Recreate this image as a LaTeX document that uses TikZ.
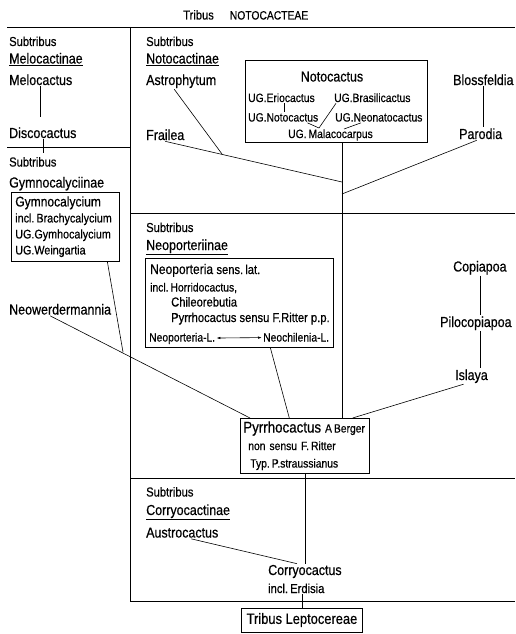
\documentclass[tikz,border=0pt]{standalone}
\usepackage{fontspec}
\setmainfont{Liberation Sans}[FakeStretch=0.86,FakeBold=0.5]
\usetikzlibrary{arrows.meta}
\newcommand{\taxbig}{\fontsize{14.5}{17}\selectfont}
\newcommand{\taxmid}{\fontsize{13}{15.5}\selectfont}
\newcommand{\taxsmall}{\fontsize{12}{14}\selectfont}

\begin{document}
\begin{tikzpicture}[x=1pt,y=-1pt]
    % Define styles for names, boxes and lines
    \tikzstyle{taxon}=[inner sep=1pt,anchor=base west,font=\taxbig]
    \tikzstyle{note}=[taxon,font=\taxmid]
    \tikzstyle{tiny}=[taxon,font=\taxsmall]
    \tikzstyle{genbox}=[draw,line width=0.6pt,anchor=north west,inner sep=0pt]
    \tikzstyle{frame}=[line width=0.7pt]
    \tikzstyle{link}=[line width=0.6pt]
    \useasboundingbox (0,0) rectangle (515,634);

    % Title and frame
    \node[taxon,font=\fontsize{13}{15}\selectfont] (title) at (182,19.5) {Tribus\hspace{16pt}{\taxsmall NOTOCACTEAE}};
    \draw[frame] (7,27) -- (515,27);
    \draw[frame] (130,27) -- (130,601);
    \draw[frame] (7,147) -- (130,147);
    \foreach \y in {213,478,601}{
        \draw[frame] (130,\y) -- (515,\y);
    }
    % Subtribus labels
    \foreach \x/\y/\n in {8/46/a, 8/166.5/b, 145/46/c, 145/232/d, 145/496.5/e}{
        \node[note] (sub\n) at (\x,\y) {Subtribus};
    }

    % Melocactinae
    \node[taxon] (meloc) at (8,63.5) {\underline{Melocactinae}};
    \node[taxon] (melo) at (8,85) {Melocactus};
    \node[taxon] (disco) at (8,138) {Discocactus};
    \coordinate (dtick) at (41,153);
    \draw[link,shorten >=9pt] (melo.south) -- (melo.south |- disco.north);
    \draw[link] (disco.south) -- (disco.south |- dtick);

    % Gymnocalyciinae
    \node[taxon] (gymnoc) at (8,187.5) {Gymnocalyciinae};
    \node[genbox,inner sep=4pt,text width=100pt,align=left,font=\fontsize{12.5}{16}\selectfont] (gymnobox) at (11,192)
        {{\fontsize{14}{16}\selectfont Gymnocalycium}\\incl.\,Brachycalycium\\UG.Gymhocalycium\\UG.Weingartia};
    \node[taxon] (neower) at (8,314.5) {Neowerdermannia};

    % Notocactinae
    \node[taxon] (notoc) at (145,63.5) {\underline{Notocactinae}};
    \node[taxon] (astro) at (145,85) {Astrophytum};
    \node[taxon] (frail) at (145,140) {Frailea};
    \node[genbox,minimum width=182pt,minimum height=82pt] (notobox) at (245,60) {};
    \node[taxon,anchor=base] (notocac) at (332,81.5) {Notocactus};
    \node[tiny] (eri) at (247,102) {UG.Eriocactus};
    \node[tiny] (bras) at (333,102) {UG.Brasilicactus};
    \node[tiny] (notu) at (247,121.5) {UG.Notocactus};
    \node[tiny] (neon) at (334,121.5) {UG.Neonatocactus};
    \node[tiny] (mala) at (287,138) {UG.\,Malacocarpus};
    \coordinate (mj) at (319,128);
    \coordinate (nj) at (344,129);
    \draw[link] ([xshift=3pt]eri.south) -- ([xshift=3pt]eri.south |- notu.north);
    \draw[link] ([xshift=-12pt]notu.south east) -- (mj);
    \draw[link] ([xshift=3pt]bras.south west) -- (mj);
    \draw[link] ([xshift=27pt]neon.south west) -- (nj);
    \node[taxon] (blos) at (452,85) {Blossfeldia};
    \node[taxon] (parod) at (458,139) {Parodia};
    \draw[link] (blos.south) -- (blos.south |- parod.north);
    % Lines joining the trunk
    \coordinate (as) at (222,154);
    \coordinate (fr) at (342,182);
    \coordinate (pa) at (342,194);
    \draw[link] ([xshift=-7pt]astro.south) -- (as);
    \draw[link] (frail.south) -- (fr);
    \draw[link] ([xshift=-4pt]parod.south) -- (pa);

    % Neoporteriinae
    \node[taxon] (neopc) at (145,250) {\underline{Neoporteriinae}};
    \node[genbox,minimum width=188pt,minimum height=89pt] (neobox) at (145,258) {};
    \node[taxon,font=\fontsize{14}{16}\selectfont] (neop) at (149,274) {Neoporteria {\taxmid sens.\,lat.}};
    \node[tiny] (horr) at (149,291.5) {incl.\,Horridocactus,};
    \node[note] (chil) at (170,306.5) {Chileorebutia};
    \node[note] (pyrsl) at (170,322) {Pyrrhocactus sensu F.Ritter p.p.};
    \node[tiny] (nl) at (148,341.5) {Neoporteria-L.};
    \node[tiny] (nc) at (262,341.5) {Neochilenia-L.};
    \draw[link,{Latex[length=4pt,width=2.5pt]}-{Latex[length=4pt,width=2.5pt]}] (nl) -- (nc);
    \node[taxon] (copia) at (452,271.5) {Copiapoa};
    \node[taxon] (piloc) at (439,327) {Pilocopiapoa};
    \node[taxon] (islay) at (454,380) {Islaya};
    \draw[link] (copia.south) -- (copia.south |- piloc.north);
    \draw[link] (piloc.south -| copia.south) -- (copia.south |- islay.north);

    % Pyrrhocactus
    \node[genbox,inner sep=3pt,text width=123pt,align=left,font=\fontsize{12}{17.5}\selectfont] (pyrrho) at (240,418)
        {{\fontsize{15.5}{17.5}\selectfont Pyrrhocactus} A\,Berger\\\hspace*{5pt}non sensu F.\,Ritter\\\hspace*{7pt}Typ.\,P.straussianus};
    \coordinate (j1) at (123,352);
    \draw[link] ([xshift=-10pt]neower.south) -- ([xshift=10pt]pyrrho.north west);
    \draw[link] ([xshift=42pt]gymnobox.south) -- (j1);
    \draw[link] ([xshift=31pt]neobox.south) -- ([xshift=-15.5pt]pyrrho.north);
    \draw[link] (notobox.south -| fr) -- (pyrrho.north -| fr);
    \draw[link] ([xshift=-8pt]islay.south) -- ([xshift=-17pt]pyrrho.north east);

    % Corryocactinae
    \node[taxon] (corc) at (145,515) {\underline{Corryocactinae}};
    \node[taxon] (austro) at (145,537.5) {Austrocactus};
    \node[taxon] (corryo) at (267,575) {Corryocactus};
    \node[note] (erdis) at (267,593) {incl.\,Erdisia};
    \node[draw,line width=0.6pt,minimum width=121pt,minimum height=24pt,inner sep=0pt,font=\fontsize{15}{17}\selectfont] (lepto) at (302,620) {Tribus Leptocereae};
    \draw[link] (pyrrho.south) -- (pyrrho.south |- corryo.north);
    \draw[link] ([xshift=9pt]austro.south) -- ([xshift=-8pt]corryo.north);
    \draw[link] (lepto.north |- erdis.south) -- (lepto.north);
\end{tikzpicture}
\end{document}
